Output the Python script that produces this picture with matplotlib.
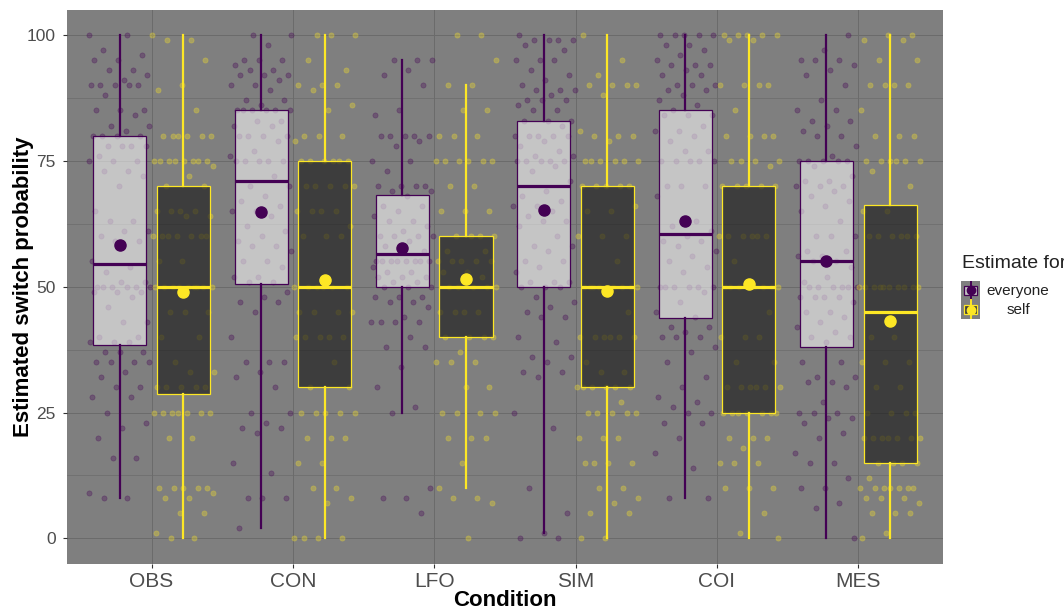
import numpy as np
import matplotlib
matplotlib.use("Agg")
import matplotlib.pyplot as plt
from matplotlib.patches import Rectangle

plt.rcParams['font.family'] = ['Liberation Sans', 'DejaVu Sans']

conditions = ['OBS', 'CON', 'LFO', 'SIM', 'COI', 'MES']
groups = ['everyone', 'self']

# box summaries
everyone_lo = [8, 2, 25, 1, 8, 0]
everyone_q1 = [38.4, 50.6, 50, 50, 43.8, 38]
everyone_med = [54.5, 71, 56.5, 70, 60.5, 55]
everyone_q3 = [80, 85, 68.2, 83, 85, 75]
everyone_hi = [100, 100, 95, 100, 100, 100]
everyone_mean = [58.3, 64.9, 57.7, 65.2, 63, 55]

self_lo = [0, 0, 10, 0, 0, 0]
self_q1 = [28.7, 30, 40, 30, 25, 15]
self_med = [50, 50, 50, 50, 50, 45]
self_q3 = [70, 75, 60, 70, 70, 66.2]
self_hi = [100, 100, 90, 100, 100, 100]
self_mean = [48.9, 51.3, 51.6, 49.1, 50.6, 43.2]

# individual responses (approximate)
obs_everyone = [100, 100, 97, 96, 95, 95, 93, 93, 92, 91, 90, 90, 90, 90, 90, 88, 85, 85, 85, 84, 82, 82, 81,
                80, 80, 80, 80, 78, 78, 78, 78, 76, 75, 75, 75, 73, 73, 72, 70, 65, 63, 63, 61, 61, 60, 59, 59,
                55, 54, 53, 51, 51, 50, 50, 50, 50, 50, 50, 49, 49, 49, 48, 46, 43, 43, 40, 40, 39, 39, 39, 37,
                37, 37, 35, 35, 35, 35, 33, 32, 30, 30, 28, 28, 25, 23, 22, 20, 16, 16, 9, 8, 8]
obs_self = [100, 99, 99, 95, 90, 89, 85, 80, 80, 80, 80, 80, 80, 75, 75, 75, 75, 75, 75, 75, 75, 74, 72, 70, 70,
            65, 65, 65, 65, 64, 64, 60, 60, 60, 60, 60, 60, 60, 55, 55, 50, 50, 50, 50, 50, 50, 50, 50, 50, 45,
            45, 45, 40, 40, 35, 33, 33, 30, 30, 30, 30, 30, 25, 25, 25, 25, 25, 25, 25, 20, 20, 10, 10, 10, 10,
            10, 9, 8, 8, 5, 5, 1, 0, 0]
con_everyone = [100, 100, 98, 95, 95, 95, 94, 93, 93, 92, 92, 92, 91, 90, 90, 89, 87, 87, 86, 85, 85, 85, 85, 85,
                85, 83, 83, 82, 82, 80, 80, 80, 80, 79, 77, 76, 75, 75, 75, 75, 75, 72, 70, 70, 68, 67, 66, 65,
                65, 64, 62, 61, 60, 59, 58, 58, 57, 55, 55, 54, 52, 52, 51, 51, 49, 48, 47, 47, 45, 40, 35, 35,
                35, 33, 32, 30, 25, 25, 23, 22, 22, 21, 15, 13, 8, 8, 8, 2]
con_self = [100, 100, 100, 95, 93, 90, 90, 90, 89, 86, 85, 80, 80, 80, 79, 75, 75, 75, 75, 75, 75, 70, 70, 70, 70,
            70, 65, 65, 65, 65, 62, 60, 60, 60, 50, 50, 50, 50, 50, 50, 45, 45, 45, 45, 40, 40, 40, 40, 40, 35,
            30, 30, 25, 25, 25, 25, 25, 20, 20, 20, 15, 15, 10, 10, 8, 7, 0, 0, 0, 0]
lfo_everyone = [95, 95, 95, 93, 92, 90, 85, 84, 80, 80, 80, 80, 80, 79, 78, 75, 75, 73, 70, 70, 70, 70, 69, 69,
                68, 66, 66, 65, 64, 63, 63, 62, 61, 60, 60, 60, 60, 59, 58, 57, 57, 55, 55, 55, 55, 55, 55, 55,
                55, 54, 53, 53, 52, 52, 52, 51, 51, 50, 50, 50, 48, 48, 48, 47, 47, 46, 44, 43, 43, 43, 43, 40,
                38, 38, 34, 30, 26, 25, 10, 8, 8, 5]
lfo_self = [100, 100, 95, 90, 90, 85, 85, 80, 80, 80, 75, 75, 75, 75, 75, 75, 70, 70, 65, 65, 65, 60, 60, 60, 60,
            57, 57, 55, 55, 55, 55, 55, 53, 53, 52, 50, 50, 50, 50, 50, 45, 45, 45, 45, 40, 40, 40, 40, 37, 35,
            35, 35, 30, 30, 25, 25, 25, 25, 20, 20, 20, 15, 10, 8, 8, 7, 0]
sim_everyone = [100, 99, 99, 99, 99, 98, 97, 95, 95, 95, 93, 92, 91, 90, 89, 89, 89, 88, 87, 87, 87, 86, 85, 85,
                83, 83, 83, 82, 80, 80, 80, 80, 80, 79, 78, 77, 76, 76, 75, 75, 75, 75, 75, 74, 73, 71, 69, 68,
                67, 66, 66, 65, 64, 63, 63, 62, 60, 58, 58, 57, 55, 55, 54, 53, 51, 51, 51, 50, 50, 50, 48, 47,
                46, 45, 44, 44, 40, 39, 36, 36, 35, 33, 33, 32, 25, 22, 10, 5, 1, 0, 0]
sim_self = [100, 95, 92, 90, 90, 90, 90, 88, 81, 80, 80, 80, 79, 75, 75, 75, 75, 75, 75, 70, 70, 70, 70, 70, 66,
            65, 65, 60, 60, 60, 55, 50, 50, 50, 50, 50, 50, 50, 50, 50, 45, 40, 40, 40, 40, 40, 40, 35, 33, 33,
            30, 30, 30, 30, 30, 30, 27, 25, 25, 25, 25, 25, 20, 20, 20, 15, 15, 15, 15, 10, 10, 8, 7, 5, 5, 0, 0]
coi_everyone = [100, 100, 100, 100, 100, 98, 98, 97, 96, 95, 94, 94, 94, 93, 92, 92, 90, 90, 90, 89, 89, 88, 87,
                86, 85, 84, 84, 84, 82, 81, 81, 80, 79, 77, 77, 75, 75, 75, 75, 75, 70, 70, 70, 68, 63, 62, 61,
                60, 59, 59, 58, 57, 56, 55, 54, 53, 50, 50, 50, 50, 50, 50, 49, 47, 45, 44, 42, 42, 41, 40, 40,
                40, 38, 37, 35, 32, 30, 28, 27, 26, 25, 25, 23, 23, 20, 17, 14, 8, 8]
coi_self = [100, 100, 100, 100, 100, 99, 99, 90, 90, 90, 90, 85, 80, 80, 80, 80, 75, 75, 75, 75, 74, 70, 70, 70,
            70, 70, 60, 60, 60, 60, 60, 60, 55, 50, 50, 50, 50, 50, 50, 50, 50, 45, 40, 40, 40, 35, 35, 30, 30,
            30, 30, 30, 30, 25, 25, 25, 25, 25, 25, 25, 20, 20, 20, 18, 15, 15, 15, 10, 10, 10, 5, 1, 0]
mes_everyone = [100, 97, 95, 95, 95, 94, 93, 92, 90, 87, 85, 85, 83, 83, 82, 81, 80, 80, 78, 76, 75, 75, 75, 75,
                75, 74, 72, 71, 71, 70, 70, 70, 69, 68, 67, 66, 65, 63, 60, 60, 60, 57, 57, 56, 56, 55, 55, 54,
                52, 51, 50, 50, 50, 50, 50, 50, 48, 48, 48, 48, 47, 45, 45, 44, 43, 42, 41, 40, 40, 39, 35, 35,
                32, 32, 31, 31, 30, 27, 25, 25, 25, 24, 24, 23, 21, 20, 17, 15, 15, 12, 10, 10, 7, 6, 0]
mes_self = [100, 100, 99, 99, 95, 95, 90, 90, 90, 90, 85, 80, 80, 80, 75, 75, 75, 75, 75, 75, 73, 70, 65, 65, 60,
            60, 60, 60, 60, 60, 50, 50, 50, 50, 50, 50, 50, 50, 50, 50, 40, 40, 35, 35, 35, 30, 30, 25, 25, 25,
            25, 20, 20, 20, 20, 20, 20, 20, 15, 15, 15, 15, 12, 10, 10, 10, 10, 10, 10, 10, 8, 8, 8, 7, 5, 5, 5,
            1, 0]

everyone_points = [obs_everyone, con_everyone, lfo_everyone, sim_everyone, coi_everyone, mes_everyone]
self_points = [obs_self, con_self, lfo_self, sim_self, coi_self, mes_self]

purple = '#440154'
yellow = '#FDE725'
bg = '#7f7f7f'
grid_col = '#6b6b6b'

fig = plt.figure(figsize=(10.64, 6.11), dpi=100)
ax = fig.add_axes([0.0627, 0.0777, 0.8236, 0.9063])
ax.set_facecolor(bg)

x = np.arange(1, len(conditions) + 1)
offset = 0.225
box_w = 0.375

settings = [
    (everyone_points, everyone_lo, everyone_q1, everyone_med, everyone_q3, everyone_hi, everyone_mean,
     -offset, purple, (1, 1, 1, 0.55)),
    (self_points, self_lo, self_q1, self_med, self_q3, self_hi, self_mean,
     offset, yellow, (0.105, 0.105, 0.105, 0.66)),
]

for pts, lo, q1, med, q3, hi, mean, off, col, fill in settings:
    # jittered responses (deterministic spread)
    for i, vals in enumerate(pts):
        k = np.arange(len(vals))
        jit = ((k * 0.618034 + i * 0.37) % 1 - 0.5) * 0.44
        ax.scatter(x[i] + off + jit, vals, s=14, color=col, alpha=0.32,
                   linewidths=0.5, zorder=2)
    stats = [dict(whislo=lo[i], q1=q1[i], med=med[i], q3=q3[i], whishi=hi[i])
             for i in range(len(conditions))]
    ax.bxp(stats, positions=x + off, widths=box_w, patch_artist=True,
           showfliers=False, showcaps=False, zorder=3,
           boxprops=dict(facecolor=fill, edgecolor=col, linewidth=0.9),
           medianprops=dict(color=col, linewidth=2.3),
           whiskerprops=dict(color=col, linewidth=1.6))
    ax.plot(x + off, mean, 'o', color=col, markersize=8, zorder=4)

ax.set_xlim(0.4, 6.6)
ax.set_ylim(-5, 105)
ax.set_xticks(x)
ax.set_xticklabels(conditions, fontsize=15, color='#4d4d4d')
ax.set_yticks([0, 25, 50, 75, 100])
ax.set_yticklabels(['0', '25', '50', '75', '100'], fontsize=12.5, color='#4d4d4d')
ax.set_yticks([12.5, 37.5, 62.5, 87.5], minor=True)
ax.tick_params(axis='both', which='major', length=3, width=0.8, color='#333333')
ax.tick_params(axis='y', which='major', pad=5)
ax.tick_params(axis='x', which='major', pad=3)
ax.tick_params(axis='y', which='minor', length=0)
ax.grid(which='major', color=grid_col, linewidth=0.7, zorder=0)
ax.grid(which='minor', axis='y', color=grid_col, linewidth=0.5, zorder=0)
ax.set_axisbelow(True)
for s in ax.spines.values():
    s.set_visible(False)

ax.set_xlabel('Condition', fontsize=16, fontweight='bold')
ax.xaxis.set_label_coords(0.5, -0.047)
ax.set_ylabel('Estimated switch probability', fontsize=16, fontweight='bold')
ax.yaxis.set_label_coords(-0.037, 0.5)

# legend drawn by hand
lax = fig.add_axes([961 / 1064, 1 - 319 / 611, 19 / 1064, 38 / 611])
lax.set_xlim(0, 1)
lax.set_ylim(0, 2)
lax.axis('off')
lax.add_patch(Rectangle((0, 0), 1, 2, color=bg))
for y0, col, fill in [(1, purple, (1, 1, 1, 0.55)), (0, yellow, (0.105, 0.105, 0.105, 0.66))]:
    lax.plot([0.5, 0.5], [y0, y0 + 1], color=col, linewidth=1.4)
    lax.add_patch(Rectangle((0.15, y0 + 0.25), 0.7, 0.5, facecolor=fill, edgecolor=col, linewidth=0.9))
    lax.plot([0.5], [y0 + 0.5], 'o', color=col, markersize=6)

fig.text(961.7 / 1064, 1 - 263 / 611, 'Estimate for', ha='left', va='center', fontsize=14, color='#222222')
fig.text(1018 / 1064, 1 - 291.5 / 611, 'everyone', ha='center', va='center', fontsize=11, color='#222222')
fig.text(1018 / 1064, 1 - 310 / 611, 'self', ha='center', va='center', fontsize=11, color='#222222')

fig.savefig('out.png', dpi=100)
